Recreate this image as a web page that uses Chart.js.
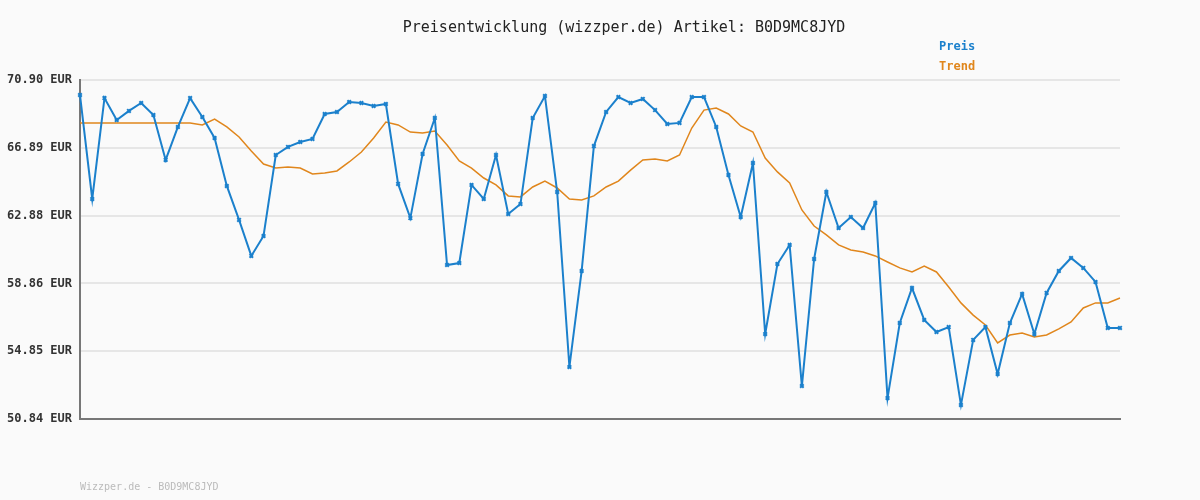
<!DOCTYPE html>
<html><head><meta charset="utf-8">
<script src="https://cdn.jsdelivr.net/npm/chart.js@4/dist/chart.umd.min.js"></script>
<style>html,body{margin:0;padding:0;background:#fafafa}#w{width:1200px;height:500px}</style>
</head><body><div id="w"><canvas id="c"></canvas></div>
<script>
const title = "Preisentwicklung (wizzper.de) Artikel: B0D9MC8JYD";
const footer = "Wizzper.de - B0D9MC8JYD";
const yTicks = [50.84, 54.85, 58.86, 62.88, 66.89, 70.90];
const preis = [70.01,63.86,69.83,68.53,69.07,69.54,68.83,66.17,68.12,69.83,68.71,67.47,64.63,62.62,60.49,61.67,66.46,66.94,67.23,67.41,68.89,69.01,69.60,69.54,69.36,69.48,64.75,62.73,66.52,68.65,
59.95,60.07,64.69,63.86,66.46,62.97,63.56,68.65,69.95,64.27,53.92,59.60,66.99,69.01,69.89,69.54,69.78,69.12,68.30,68.36,69.89,69.89,68.12,65.28,62.79,65.99,55.87,60.01,
61.14,52.79,60.31,64.27,62.14,62.79,62.14,63.62,52.08,56.52,58.59,56.70,55.99,56.28,51.67,55.52,56.28,53.50,56.52,58.24,55.87,58.30,59.60,60.37,59.78,58.95,56.23,56.23];
const trend = [68.36,68.36,68.36,68.36,68.36,68.36,68.36,68.36,68.36,68.36,
68.24,68.59,68.12,67.53,66.70,65.93,65.69,65.75,65.69,65.34,65.40,65.52,66.05,66.64,67.47,68.41,68.24,67.82,67.76,67.88,
67.05,66.11,65.69,65.10,64.69,64.04,63.98,64.57,64.92,64.51,63.86,63.80,64.04,64.57,64.92,65.57,66.17,66.23,66.11,66.46,68.06,69.12,69.24,68.89,68.18,67.82,66.28,65.46,
64.81,63.21,62.26,61.73,61.14,60.84,60.72,60.49,60.13,59.78,59.54,59.89,59.54,58.65,57.71,56.99,56.40,55.34,55.81,55.93,55.69,55.81,56.17,56.58,57.41,57.71,57.71,58.00];
const labels = preis.map((_, i) => i + 1);
const BLUE = '#1b80cc', ORANGE = '#e0861c';
const mono = '"DejaVu Sans Mono", monospace';
const deco = {
  id: 'deco',
  beforeDraw(c) { const x = c.ctx; x.save(); x.fillStyle = '#fafafa'; x.fillRect(0, 0, c.width, c.height); x.restore(); },
  afterDraw(c) {
    const x = c.ctx; x.save();
    x.textBaseline = 'middle';
    x.font = '15px ' + mono; x.fillStyle = '#222'; x.textAlign = 'center';
    x.fillText(title, 624, 28);
    x.font = 'bold 12px ' + mono; x.textAlign = 'left';
    c.data.datasets.forEach((d, i) => { x.fillStyle = d.borderColor; x.fillText(d.label, 939, 47 + i * 20); });
    x.font = '10px ' + mono; x.fillStyle = '#bbb';
    x.fillText(footer, 80, 487);
    x.restore();
  }
};
new Chart(document.getElementById('c'), {
  type: 'line',
  data: { labels, datasets: [
    { label: 'Preis', data: preis, borderColor: BLUE, backgroundColor: BLUE, borderWidth: 2, pointStyle: 'crossRot', pointRadius: 2.5, pointBorderWidth: 2, tension: 0 },
    { label: 'Trend', data: trend, borderColor: ORANGE, backgroundColor: ORANGE, borderWidth: 1.5, pointRadius: 0, tension: 0 }
  ]},
  options: {
    responsive: true, maintainAspectRatio: false, animation: false,
    layout: { padding: { top: 80, right: 80, bottom: 81, left: 0 } },
    plugins: { legend: { display: false }, title: { display: false }, tooltip: { enabled: false } },
    scales: {
      x: { offset: false, ticks: { display: false }, grid: { display: false }, border: { color: '#777', width: 2 },
           afterFit(s) { s.height = 0; } },
      y: { min: 50.84, max: 70.90,
           afterBuildTicks(s) { s.ticks = yTicks.map(v => ({ value: v })); },
           afterFit(s) { s.width = 80; },
           ticks: { font: { family: mono, size: 12, weight: 'bold' }, color: '#333', padding: 8,
                    callback: v => v.toFixed(2) + ' EUR' },
           grid: { color: '#e6e6e6', lineWidth: 2, drawTicks: false },
           border: { color: '#777', width: 2 } }
    }
  },
  plugins: [deco]
});
</script></body></html>
